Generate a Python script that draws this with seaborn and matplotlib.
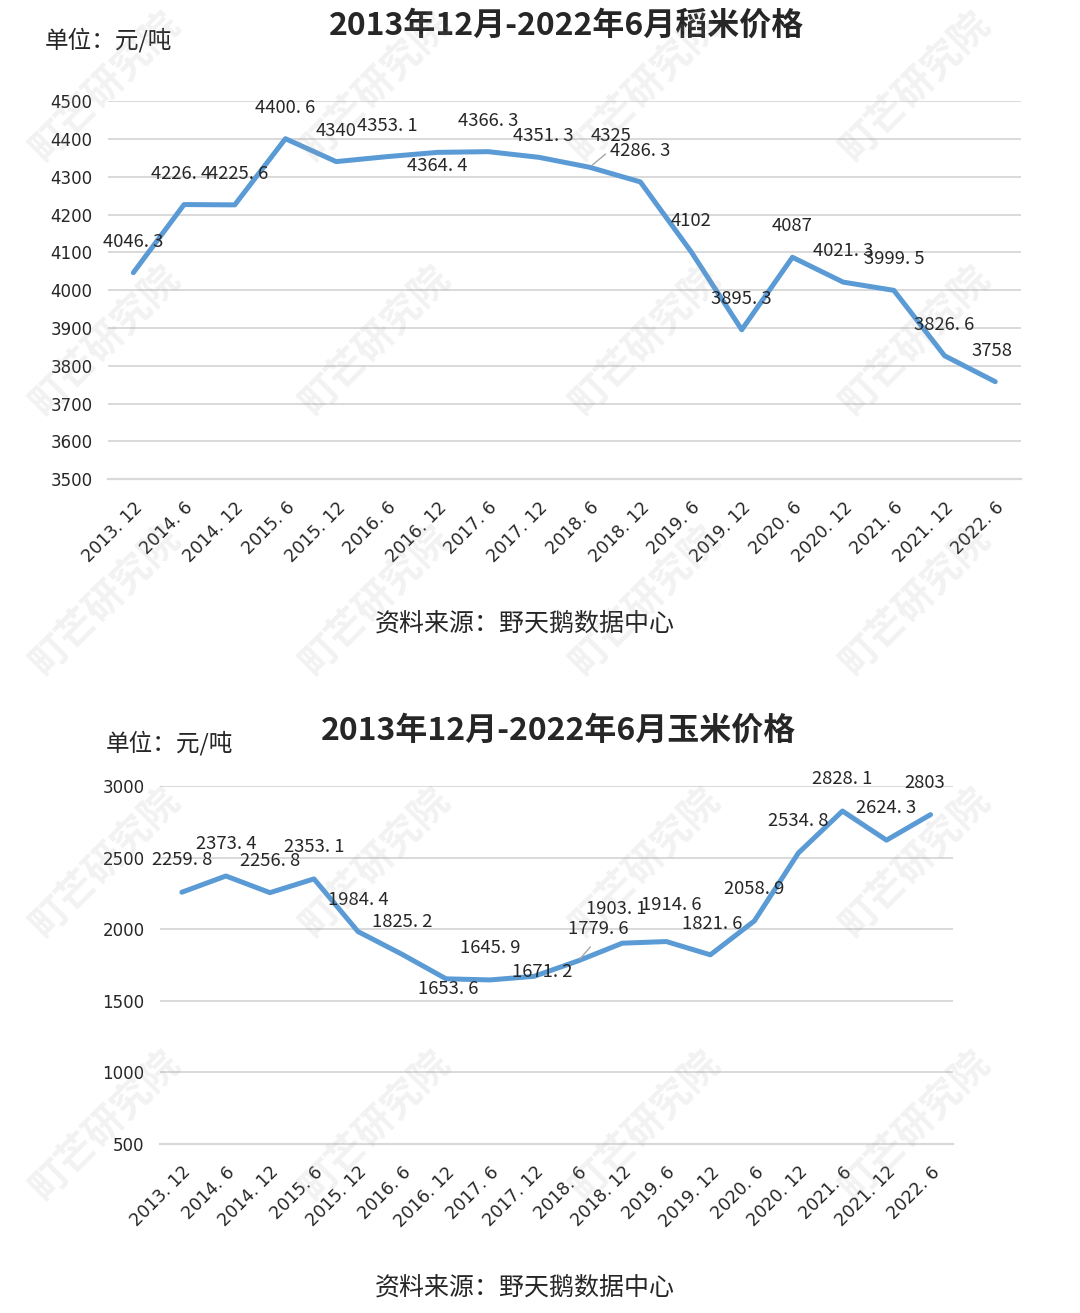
import matplotlib
matplotlib.use('Agg')
import matplotlib.pyplot as plt
import numpy as np
import pandas as pd
import seaborn as sns

# data
periods = ['2013. 12', '2014. 6', '2014. 12', '2015. 6', '2015. 12', '2016. 6',
           '2016. 12', '2017. 6', '2017. 12', '2018. 6', '2018. 12', '2019. 6',
           '2019. 12', '2020. 6', '2020. 12', '2021. 6', '2021. 12', '2022. 6']
rice_price = [4046.3, 4226.4, 4225.6, 4400.6, 4340, 4353.1, 4364.4, 4366.3, 4351.3,
              4325, 4286.3, 4102, 3895.3, 4087, 4021.3, 3999.5, 3826.6, 3758]
corn_price = [2259.8, 2373.4, 2256.8, 2353.1, 1984.4, 1825.2, 1653.6, 1645.9, 1671.2,
              1779.6, 1903.1, 1914.6, 1821.6, 2058.9, 2534.8, 2828.1, 2624.3, 2803]

rice_title = '2013年12月-2022年6月稻米价格'
corn_title = '2013年12月-2022年6月玉米价格'
unit_text = '单位：元/吨'
source_text = '资料来源：野天鹅数据中心'
watermark = '町芒研究院'

# label offsets in pixels (dx, dy), default above the point
rice_offsets = {1: (-3, 31), 2: (3, 31), 6: (0, -14), 8: (4, 21), 9: (21, 31), 17: (-3, 31)}
corn_offsets = {6: (2, -10), 8: (8, 4), 9: (20, 32), 10: (-6, 34), 11: (5, 37),
                12: (2, 31), 17: (-6, 32)}

sns.set_style('white')
plt.rcParams['font.family'] = ['Noto Sans CJK SC', 'DejaVu Sans']
plt.rcParams['axes.unicode_minus'] = False

LINE = '#5B9BD5'
GRID = '#d9d9d9'
TXT = '#262626'


def fmt(v):
    s = ('%g' % v)
    return s.replace('.', '. ')


def draw(ax, values, ylim, ystep, offsets, default_dy):
    df = pd.DataFrame({'idx': np.arange(len(periods)), 'price': values})
    sns.lineplot(data=df, x='idx', y='price', ax=ax, color=LINE, linewidth=3.6,
                 solid_joinstyle='round', solid_capstyle='round')
    ax.set_xlim(-0.5, len(periods) - 0.5)
    ax.set_ylim(*ylim)
    ax.set_yticks(np.arange(ylim[0], ylim[1] + 1, ystep))
    ax.set_yticklabels([str(int(t)) for t in ax.get_yticks()],
                       family='DejaVu Sans', fontsize=12, color=TXT)
    ax.set_xticks(df['idx'])
    ax.set_xticklabels(periods, rotation=45, ha='right', rotation_mode='anchor',
                       family='DejaVu Sans', fontsize=12.5, color=TXT)
    ax.set_xticks(np.arange(-0.5, len(periods), 1), minor=True)
    ax.tick_params(axis='x', which='major', length=0, pad=14)
    ax.tick_params(axis='x', which='minor', length=7, color=GRID, width=1.3)
    ax.tick_params(axis='y', length=0, pad=11)
    ax.set_xlabel('')
    ax.set_ylabel('')
    ax.grid(axis='y', color=GRID, linewidth=1.4)
    ax.set_axisbelow(True)
    for s in ['left', 'top', 'right']:
        ax.spines[s].set_visible(False)
    ax.spines['bottom'].set_color(GRID)
    ax.spines['bottom'].set_linewidth(1.6)
    for i, v in enumerate(values):
        dx, dy = offsets.get(i, (0, default_dy))
        ax.annotate(fmt(v), xy=(i, v), xytext=(dx, dy), textcoords='offset pixels',
                    ha='center', va='center', fontsize=13.3, color=TXT, zorder=5)


fig = plt.figure(figsize=(10.8, 13.13), dpi=100)
ax1 = fig.add_axes([0.1, 0.635, 0.845, 0.288])
ax2 = fig.add_axes([0.148, 0.129, 0.734, 0.272])

draw(ax1, rice_price, (3500, 4500), 100, rice_offsets, 31)
draw(ax2, corn_price, (500, 3000), 500, corn_offsets, 32)

# small leader lines as in the reference
ax1.annotate('', xy=(9, rice_price[9]), xytext=(18, 15), textcoords='offset pixels',
             arrowprops=dict(arrowstyle='-', color='#a6a6a6', lw=1))
ax2.annotate('', xy=(9, corn_price[9]), xytext=(14, 16), textcoords='offset pixels',
             arrowprops=dict(arrowstyle='-', color='#a6a6a6', lw=1))

H = 1313.0
W = 1080.0
fig.text(566 / W, 1 - 26 / H, rice_title, ha='center', va='center',
         fontsize=23, fontweight='bold', color=TXT)
fig.text(558 / W, 1 - 731 / H, corn_title, ha='center', va='center',
         fontsize=23, fontweight='bold', color=TXT)
fig.text(45 / W, 1 - 40 / H, unit_text, ha='left', va='center', fontsize=17, color=TXT)
fig.text(106 / W, 1 - 743 / H, unit_text, ha='left', va='center', fontsize=17, color=TXT)
fig.text(525 / W, 1 - 624 / H, source_text, ha='center', va='center', fontsize=18, color=TXT)
fig.text(525 / W, 1 - 1288 / H, source_text, ha='center', va='center', fontsize=18, color=TXT)

# watermark grid
for cx in [105, 375, 645, 915]:
    for cy in [86, 340, 600, 862, 1125]:
        fig.text(cx / W, 1 - cy / H, watermark, ha='center', va='center', rotation=45,
                 fontsize=28, fontweight='bold', color='#9a9a9a', alpha=0.13, zorder=10)

fig.savefig('out.png', dpi=100)
